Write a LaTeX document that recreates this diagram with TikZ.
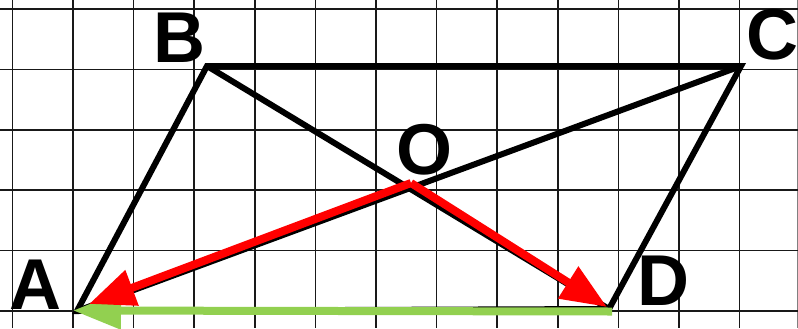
\documentclass[tikz,border=0pt]{standalone}
\usepackage{fontspec}
\setmainfont{Liberation Sans}
\usetikzlibrary{arrows.meta}
\definecolor{arrred}{RGB}{255,0,0}
\definecolor{arrgreen}{RGB}{146,208,80}
\begin{document}
\begin{tikzpicture}[x=1bp,y=-1bp,
  gridline/.style={line width=1.6bp, black!90},
  edge/.style={line width=6bp, black, line cap=butt, line join=miter},
  redarrow/.style={line width=8bp, arrred, -{Triangle[length=46bp,width=36bp]}},
  greenarrow/.style={line width=8bp, arrgreen, -{Triangle[length=48bp,width=36bp]}},
  lbl/.style={inner sep=0pt, font=\fontsize{72bp}{72bp}\selectfont\bfseries}]
\useasboundingbox (0,0) rectangle (798,328);
\fill[white] (0,0) rectangle (798,328);
% grid
\foreach \k in {0,...,12} {\draw[gridline] ({12.3+60.6*\k},0) -- ({12.3+60.6*\k},328);}
\draw[gridline, black!50] (797.5,0) -- (797.5,328);
\foreach \k in {0,...,5} {\draw[gridline] (0,{9+60.42*\k}) -- (798,{9+60.42*\k});}
% vertices
\coordinate (A) at (77,311);
\coordinate (B) at (207,66);
\coordinate (C) at (741,66);
\coordinate (D) at (609,309);
\coordinate (O) at (410,188);
\coordinate (Or) at (411,183);
\coordinate (Ar) at (89,304);
\coordinate (Dr) at (607,307);
\coordinate (Dg) at (612,311.5);
\coordinate (Ag) at (73,310.5);
% parallelogram and diagonals
\draw[edge] (A) -- (B) -- (C) -- (D) -- cycle;
\draw[edge] (B) -- (D);
\draw[edge] (A) -- (C);
% vectors
\draw[greenarrow] (Dg) -- (Ag);
\draw[redarrow] (Or) -- (Ar);
\draw[redarrow] (Or) -- (Dr);
% labels
\node[lbl] (la) at (35,285) {A};
\node[lbl] (lb) at (179,38) {B};
\node[lbl] (lc) at (772,35) {C};
\node[lbl] (ld) at (663,281) {D};
\node[lbl] (lo) at (424,150) {O};
\end{tikzpicture}
\end{document}
